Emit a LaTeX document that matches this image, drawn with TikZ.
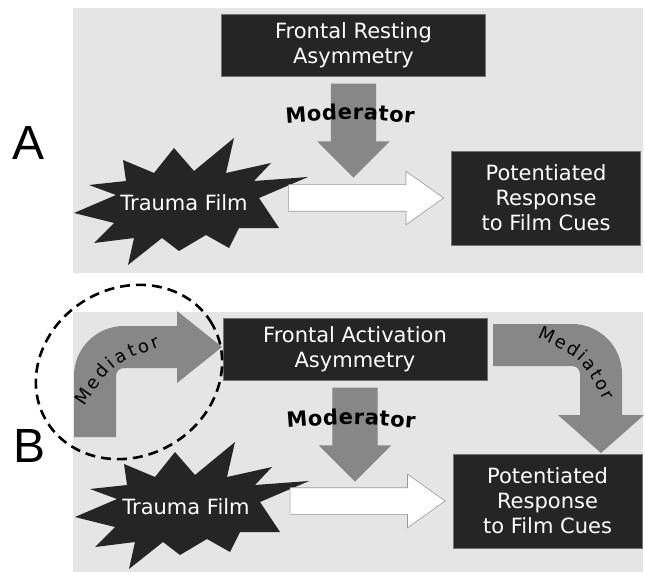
\documentclass[tikz,border=0pt]{standalone}
\usepackage{fontspec}
\setmainfont{DejaVu Sans}
\newfontfamily\labelfont{Liberation Sans}
\usepackage{xcolor}
\usepackage{tikz}
\usetikzlibrary{shapes.arrows,decorations.text,positioning}
\definecolor{panelgrey}{HTML}{E5E5E5}
\definecolor{boxgrey}{HTML}{252525}
\definecolor{arrowgrey}{HTML}{878787}

\begin{document}
\begin{tikzpicture}[
      x=1pt, y=-1pt,
      darkbox/.style={draw=black!55, line width=.8pt, fill=boxgrey, text=white, align=center,
                      inner sep=0pt, font=\fontsize{21}{25}\selectfont},
      frontbox/.style={darkbox, minimum width=264pt, minimum height=62pt},
      responsebox/.style={darkbox, minimum width=189pt, minimum height=94pt},
      modarrow/.style={single arrow, fill=arrowgrey, rotate=-90, inner xsep=0pt, inner ysep=22.5pt,
                       minimum height=94pt, single arrow head extend=13.5pt,
                       single arrow tip angle=90},
      filmarrow/.style={single arrow, fill=white, draw=black!40, line width=.6pt, inner xsep=0pt,
                        inner ysep=13pt, minimum height=155pt,
                        single arrow head extend=13.5pt, single arrow tip angle=71},
      burstlabel/.style={text=white, inner sep=0pt, font=\fontsize{21}{25}\selectfont},
      panellabel/.style={inner sep=0pt, font=\labelfont\fontsize{48}{48}\selectfont},
      medtext/.style={decorate, decoration={text along path, text align=fit to path,
                      text={|\fontsize{18}{20}\selectfont|Mediator}}},
      modtext/.style={decorate, decoration={text along path, text align=fit to path,
                      text={|\fontsize{21}{24}\selectfont\bfseries|Moderator}}},
      ring/.style={draw, line width=2.6pt, dash pattern=on 10pt off 6pt},
      burst/.pic={
        \fill[boxgrey] (-110,10) -- (-68,-8) -- (-95,-18) -- (-58,-22) -- (-61,-43) -- (-30,-30)
          -- (-10,-55) -- (10,-32) -- (50,-65) -- (42,-30) -- (87,-40) -- (70,-22) -- (124,-26)
          -- (75,-5) -- (95,25) -- (55,25) -- (45,45) -- (22,32) -- (-5,48) -- (-22,35)
          -- (-56,62) -- (-50,35) -- (-90,40) -- (-70,20) -- cycle;
      }]
    \useasboundingbox (0,0) rectangle (645,572);
    \fill[panelgrey] (73,8) rectangle (643,273);
    \fill[panelgrey] (73,312) rectangle (643,572);

    % panel A
    \node[panellabel] (labA) at (29,142.5) {A};
    \node[frontbox] (frontA) at (353.5,45) {Frontal Resting\\Asymmetry};
    \node[responsebox] (responseA) at (546,198) {Potentiated\\Response\\to Film Cues};
    \node[modarrow, anchor=tail] (modA) at ([yshift=-7pt]frontA.south) {};
    \path[modtext] (286,123.5) .. controls (350,118.5) .. (414,123.5);
    \pic at (184,203) {burst};
    \node[burstlabel] (traumaA) at (184,203) {Trauma Film};
    \node[filmarrow, anchor=tip] (filmA) at ([xshift=-7pt]responseA.west) {};

    % panel B
    \node[panellabel] (labB) at (30,446) {B};
    \node[frontbox] (frontB) at (355,349) {Frontal Activation\\Asymmetry};
    \node[responsebox] (responseB) at (547.5,501) {Potentiated\\Response\\to Film Cues};
    \node[modarrow, anchor=tail] (modB) at ([yshift=-7pt]frontB.south) {};
    \path[modtext] (287,428) .. controls (351,423) .. (415,428);
    \pic at (185,507) {burst};
    \node[burstlabel] (traumaB) at (186,507) {Trauma Film};
    \node[filmarrow, anchor=tip] (filmB) at ([xshift=-7pt]responseB.west) {};

    % curved mediator arrows
    \fill[arrowgrey] (74,437) -- (74,376) arc[start angle=180, end angle=90, radius=50pt]
      -- (177,326) -- (177,311) -- (222,347) -- (177,383) -- (177,368) -- (124,368)
      arc[start angle=90, end angle=180, radius=8pt] -- (116,437) -- cycle;
    \path[medtext] (84.5,406.7) .. controls (112.3,364.1) .. (160,346.7);
    \fill[arrowgrey] (493,324) -- (572,324) arc[start angle=90, end angle=0, radius=50pt]
      -- (622,415) -- (644,415) -- (601,453) -- (558,415) -- (580,415) -- (580,374)
      arc[start angle=0, end angle=90, radius=8pt] -- (493,366) -- cycle;
    \path[medtext] (537,338) .. controls (581.5,357.9) .. (604,401);
    \draw[ring] (129,372) ellipse[x radius=96pt, y radius=84pt, rotate=30];
  \end{tikzpicture}
\end{document}
